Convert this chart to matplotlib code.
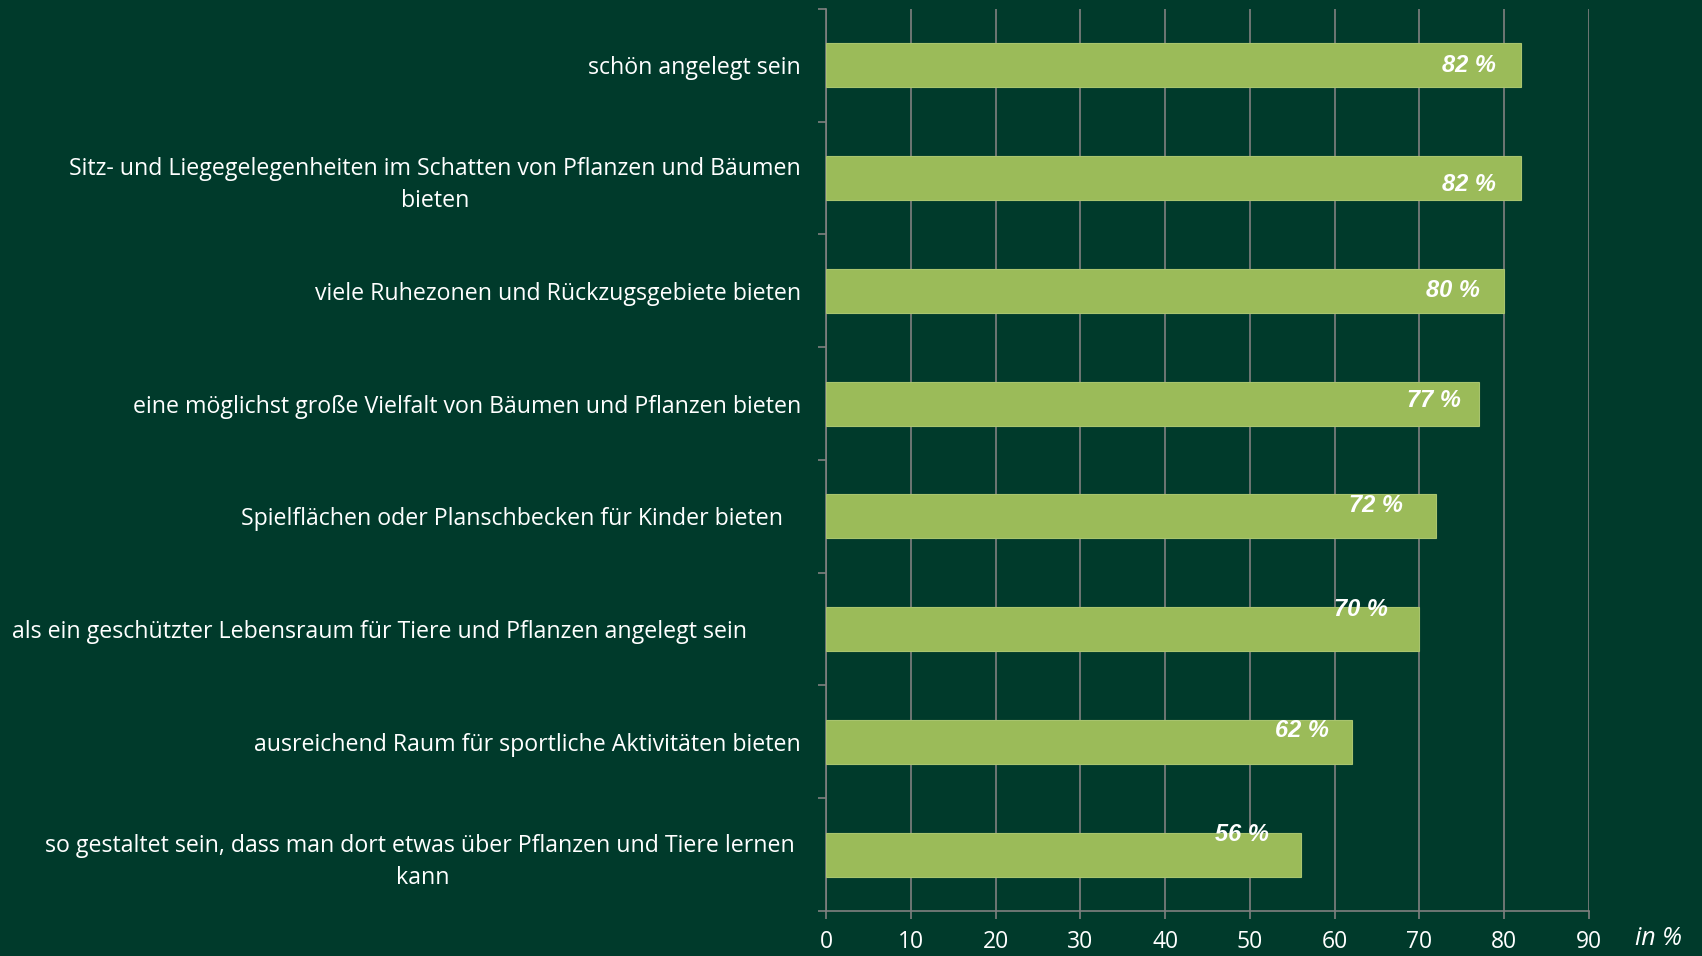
import matplotlib
import numpy as np
from matplotlib import pyplot as plt

matplotlib.use('Agg')

# 数据
labels = [
    'schön angelegt sein',
    'Sitz- und Liegegelegenheiten im Schatten von Pflanzen und Bäumen\nbieten',
    'viele Ruhezonen und Rückzugsgebiete bieten',
    'eine möglichst große Vielfalt von Bäumen und Pflanzen bieten',
    'Spielflächen oder Planschbecken für Kinder bieten   ',
    'als ein geschützter Lebensraum für Tiere und Pflanzen angelegt sein         ',
    'ausreichend Raum für sportliche Aktivitäten bieten',
    'so gestaltet sein, dass man dort etwas über Pflanzen und Tiere lernen \nkann',
]
values = [82, 82, 80, 77, 72, 70, 62, 56]
x_ticks = [0, 10, 20, 30, 40, 50, 60, 70, 80, 90]

# 数值标签的位置偏移（数据单位）
label_dx = [-3.0, -3.0, -2.9, -2.1, -3.9, -3.7, -2.7, -3.8]
label_dy = [0.0, 0.06, 0.0, -0.03, -0.1, -0.17, -0.1, -0.18]

BG = '#003A2B'
BAR = '#9BBB59'
GRID = '#808080'

fig = plt.figure(figsize=(17.02, 9.56), dpi=100, facecolor=BG)
ax = fig.add_axes([0.4853, 0.0471, 0.4483, 0.9435], facecolor=BG)

y = np.arange(len(values))
ax.barh(y, values, height=0.39, color=BAR, edgecolor='#a8c46e', linewidth=0.8, zorder=3)

for yi, v, dx, dy in zip(y, values, label_dx, label_dy):
    ax.text(v + dx, yi + dy, f'{v} %', ha='right', va='center', color='white',
            fontsize=17, fontweight='bold', fontstyle='italic',
            family='Liberation Sans', zorder=4)

ax.set_xlim(0, 90)
ax.set_ylim(len(values) - 0.5, -0.5)
ax.set_xticks(x_ticks)
ax.set_xticklabels([str(t) for t in x_ticks], family='Open Sans', fontsize=16.5, color='white')
ax.grid(axis='x', color=GRID, linewidth=1.2, zorder=0)
ax.set_axisbelow(True)

# y轴：刻度在类别边界，标签在类别中心
ax.set_yticks(np.arange(len(values) + 1) - 0.5)
ax.set_yticklabels([])
ax.set_yticks(y, minor=True)
ax.set_yticklabels(labels, minor=True, family='Open Sans', fontsize=16.7, color='white')
for t in ax.get_yticklabels(minor=True):
    t.set_multialignment('center')
    t.set_linespacing(1.45)
ax.tick_params(axis='y', which='major', direction='out', length=6, width=1.2, color=GRID)
ax.tick_params(axis='y', which='minor', length=0, pad=18)
ax.tick_params(axis='x', direction='out', length=6, width=1.2, color=GRID, pad=8)

for s in ['top', 'right']:
    ax.spines[s].set_visible(False)
for s in ['left', 'bottom']:
    ax.spines[s].set_color(GRID)
    ax.spines[s].set_linewidth(1.2)

fig.text(0.9885, 0.018, 'in %', ha='right', va='center', color='white',
         fontsize=18, fontstyle='italic', family='Open Sans')

plt.savefig('out.png', facecolor=BG)
plt.close()
